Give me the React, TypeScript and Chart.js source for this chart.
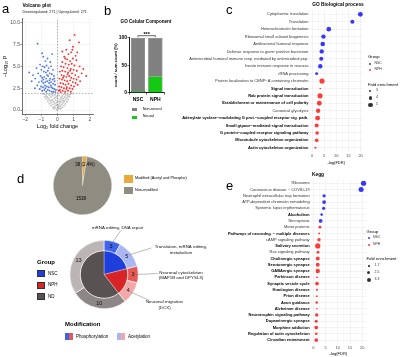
import React, { useEffect, useRef } from "react";
import { Chart, registerables } from "chart.js";

Chart.register(...registerables);

// ======================= DATA =======================
// (a) Volcano plot: [log2 fold change, -log10 P]
const VOLCANO_DOWN: number[][] = [
  [-1.23, 7.6], [-0.95, 6.5], [-0.33, 6.4], [-0.88, 6.1], [-0.62, 5.9], [-0.45, 5.5], [-0.75, 5.6], [-1.08, 5.2],
  [-1.3, 4.8], [-1.75, 4.3], [-1.52, 4.0], [-1.6, 3.3], [-1.38, 3.6], [-1.2, 4.2], [-1.0, 4.6], [-0.92, 5.0],
  [-0.8, 4.9], [-0.68, 5.1], [-0.55, 4.8], [-0.4, 5.0], [-0.28, 4.6], [-0.85, 4.4], [-0.72, 4.3], [-0.6, 4.5],
  [-0.48, 4.2], [-0.35, 4.1], [-0.22, 3.9], [-1.05, 3.9], [-0.95, 3.7], [-0.82, 3.8], [-0.7, 3.6], [-0.58, 3.9],
  [-0.45, 3.6], [-0.3, 3.5], [-0.18, 3.3], [-1.15, 3.2], [-0.98, 3.3], [-0.88, 3.1], [-0.76, 3.2], [-0.64, 3.3],
  [-0.52, 3.1], [-0.4, 3.2], [-0.27, 3.0], [-0.15, 2.9], [-1.25, 2.8], [-1.02, 2.7], [-0.9, 2.6], [-0.78, 2.8],
  [-0.66, 2.7], [-0.54, 2.6], [-0.42, 2.8], [-0.3, 2.5], [-0.2, 2.4], [-0.1, 2.3], [-0.95, 2.2], [-0.82, 2.3],
  [-0.7, 2.1], [-0.6, 2.3], [-0.48, 2.2], [-0.36, 2.1], [-0.25, 2.1], [-0.14, 2.05], [-1.4, 2.5], [-0.65, 4.0],
  [-0.5, 3.4], [-0.38, 2.6], [-0.75, 2.5], [-0.88, 3.5], [-1.1, 2.4], [-0.2, 3.6],
];
const VOLCANO_UP: number[][] = [
  [1.06, 8.6], [0.76, 8.0], [1.33, 7.75], [0.96, 7.25], [0.55, 6.9], [0.85, 6.6], [0.68, 6.4], [1.12, 6.2],
  [0.42, 6.1], [0.95, 5.9], [1.17, 5.7], [0.6, 5.8], [0.78, 5.6], [0.3, 5.5], [1.37, 5.0], [0.5, 5.3],
  [0.7, 5.2], [0.88, 5.3], [1.05, 5.1], [0.22, 5.0], [0.38, 4.9], [0.62, 4.8], [0.82, 4.7], [1.0, 4.6],
  [1.2, 4.5], [1.78, 3.9], [1.5, 4.2], [0.15, 4.4], [0.3, 4.5], [0.48, 4.4], [0.66, 4.3], [0.9, 4.2],
  [1.1, 4.0], [1.3, 3.8], [0.25, 4.0], [0.4, 3.9], [0.55, 3.8], [0.72, 3.9], [0.85, 3.7], [1.0, 3.6],
  [1.18, 3.5], [0.12, 3.6], [0.28, 3.5], [0.45, 3.4], [0.6, 3.3], [0.78, 3.4], [0.95, 3.2], [1.12, 3.1],
  [0.18, 3.1], [0.35, 3.0], [0.5, 2.9], [0.68, 3.0], [0.85, 2.8], [1.02, 2.7], [0.1, 2.7], [0.25, 2.6],
  [0.4, 2.5], [0.58, 2.6], [0.75, 2.5], [0.92, 2.4], [0.15, 2.3], [0.32, 2.2], [0.48, 2.1], [0.65, 2.2],
  [0.82, 2.1], [0.2, 2.05], [0.55, 2.4], [1.25, 2.9], [1.4, 3.3], [0.35, 3.7], [0.62, 4.1], [0.78, 4.5],
  [0.48, 5.9], [0.92, 6.9], [1.22, 6.6], [0.3, 6.7], [1.6, 4.7], [0.08, 2.2],
];
const VOLCANO_NS: number[][] = [
  [-0.05, 0.05], [0.04, 0.1], [0.1, 0.2], [-0.12, 0.25], [0.02, 0.3], [-0.2, 0.4], [0.18, 0.4], [0.06, 0.5],
  [-0.08, 0.55], [0.26, 0.6], [-0.3, 0.65], [0.12, 0.7], [-0.16, 0.75], [0.34, 0.8], [-0.38, 0.85], [0.2, 0.9],
  [-0.24, 0.95], [0.05, 1.0], [0.42, 1.0], [-0.45, 1.05], [0.28, 1.1], [-0.1, 1.1], [-0.32, 1.15], [0.5, 1.2],
  [0.15, 1.2], [-0.52, 1.25], [0.36, 1.3], [-0.2, 1.3], [0.0, 1.35], [-0.6, 1.4], [0.58, 1.4], [0.22, 1.45],
  [-0.4, 1.5], [0.44, 1.5], [-0.05, 1.55], [-0.66, 1.55], [0.65, 1.6], [0.3, 1.6], [-0.28, 1.65], [0.1, 1.65],
  [-0.5, 1.7], [0.52, 1.7], [-0.72, 1.75], [0.72, 1.75], [-0.15, 1.75], [0.38, 1.8], [-0.38, 1.8], [0.02, 1.85],
  [-0.58, 1.85], [0.6, 1.85], [0.8, 1.8], [-0.82, 1.8], [0.2, 0.15], [-0.22, 0.15], [0.3, 0.3], [-0.28, 0.3],
  [0.4, 0.5], [-0.42, 0.5], [0.48, 0.7], [-0.5, 0.75], [0.58, 0.95], [-0.6, 1.0], [0.66, 1.2], [-0.7, 1.25],
  [0.75, 1.5], [-0.78, 1.5], [0.0, 0.6], [0.12, 0.95], [-0.05, 0.85], [0.25, 1.35], [-0.15, 1.45], [0.45, 1.9],
  [-0.3, 1.9], [0.9, 1.9], [-0.92, 1.9], [0.08, 0.45], [-0.35, 1.1], [0.36, 1.05],
];
const VOLCANO_X_TICKS = [-2, -1, 0, 1, 2];
const VOLCANO_Y_TICKS = [0, 2.5, 5, 7.5, 10];
const VOLCANO_X_RANGE = [-2.2, 2.2];
const VOLCANO_Y_RANGE = [-0.5, 10.5];
const P_CUTOFF = 1.9;
const FC_CUTOFF = 0;
const DOWN_COUNT = 271;
const UP_COUNT = 271;

// (b) GO Cellular component (% of count)
const CC_GROUPS = ["NSC", "NPH"];
const CC_NEURAL = [3, 30];
const CC_NON_NEURAL = [97, 70];
const CC_Y_TICKS = [0, 50, 100];
const CC_SIGNIFICANCE = "***";

// (c) GO Biological process
const GO_TERMS = [
  "Cytoplasmic translation",
  "Translation",
  "Heterochromatin formation",
  "Ribosomal small subunit biogenesis",
  "Antibacterial humoral response",
  "Defense response to gram\u2212positive bacterium",
  "Antimicrobial humoral immune resp. mediated by antimicrobial pep.",
  "Innate immune response in mucosa",
  "rRNA processing",
  "Protein localization to CENP\u2212A containing chromatin",
  "Signal transduction",
  "Rab protein signal transduction",
  "Establishment or maintenance of cell polarity",
  "Canonical glycolysis",
  "Adenylate cyclase\u2212modulating G prot.\u2212coupled receptor sig. path.",
  "Small gtpase\u2212mediated signal transduction",
  "G protein\u2212coupled receptor signaling pathway",
  "Microtubule cytoskeleton organization",
  "Actin cytoskeleton organization",
];
const GO_LOG_FDR = [19.9, 16.6, 6.9, 4.7, 4.4, 4.0, 3.8, 3.4, 1.9, 4.1, 3.4, 3.3, 3.0, 2.5, 2.3, 1.9, 2.1, 1.9, 1.4];
const GO_FOLD = [5.2, 4.5, 5.0, 4.8, 5.0, 4.8, 4.5, 4.8, 3.5, 5.5, 2.3, 5.5, 5.2, 4.8, 5.3, 4.5, 4.1, 4.1, 2.8];
const GO_GROUP = ["NSC", "NSC", "NSC", "NSC", "NSC", "NSC", "NSC", "NSC", "NSC",
  "NPH", "NPH", "NPH", "NPH", "NPH", "NPH", "NPH", "NPH", "NPH", "NPH"];
const GO_FOLD_BREAKS = [3, 4, 5];
const FDR_TICKS = [0, 5, 10, 15, 20];

// (d) modified proteins
const MOD_LABELS = ["Modified (Acetyl and Phospho)", "Non-modified"];
const MOD_COUNTS = [38, 1538];
const GROUP_LABELS = ["NSC", "NPH", "ND"];
const GROUP_COUNTS = [8, 7, 23];
const SEGMENT_COUNTS = [3, 5, 3, 4, 10, 13];
const MODIFICATION_LABELS = ["Phosphorylation", "Acetylation"];
const SEGMENT_NOTES = [
  ["mRNA editing, DNA repair"],
  ["Translation, mRNA editing,", "metabolism"],
  ["Neuronal cytoskeleton", "(MAP1B and DPYSL3)"],
  ["Neuronal migration", "(DCX)"],
];

// (e) KEGG
const KEGG_TERMS = [
  "Ribosome",
  "Coronavirus disease \u2212 COVID-19",
  "Neutrophil extracellular trap formation",
  "ATP-dependent chromatin remodeling",
  "Systemic lupus erythematosus",
  "Alcoholism",
  "Necroptosis",
  "Motor proteins",
  "Pathways of neurodeg. \u2212 multiple diseases",
  "cAMP signaling pathway",
  "Salivary secretion",
  "Ras signaling pathway",
  "Cholinergic synapse",
  "Serotonergic synapse",
  "GABAergic synapse",
  "Parkinson disease",
  "Synaptic vesicle cycle",
  "Huntington disease",
  "Prion disease",
  "Axon guidance",
  "Alzheimer disease",
  "Neurotrophin signaling pathway",
  "Dopaminergic synapse",
  "Morphine addiction",
  "Regulation of actin cytoskeleton",
  "Circadian entrainment",
];
const KEGG_LOG_FDR = [20.5, 19.5, 4.4, 4.4, 4.2, 3.4, 3.0, 2.7, 2.4, 2.3, 1.8, 1.9, 1.8, 1.8, 1.8, 1.5, 1.5, 1.5, 1.4, 1.4, 1.4, 1.4, 1.2, 1.2, 1.2, 1.2];
const KEGG_FOLD = [3.8, 3.7, 2.6, 2.9, 2.6, 2.2, 2.9, 2.4, 1.8, 2.7, 3.8, 2.4, 3.0, 3.0, 3.3, 1.8, 2.9, 1.9, 1.8, 2.2, 1.6, 2.7, 2.5, 2.9, 2.3, 2.9];
const KEGG_GROUP = ["NSC", "NSC", "NSC", "NSC", "NSC", "NSC", "NSC",
  "NPH", "NPH", "NPH", "NPH", "NPH", "NPH", "NPH", "NPH", "NPH", "NPH", "NPH", "NPH", "NPH", "NPH", "NPH", "NPH", "NPH", "NPH", "NPH"];
const KEGG_FOLD_BREAKS = [1.7, 2.5, 3.3];

// ======================= STYLE =======================
const FONT = "'Liberation Sans', Arial, Helvetica, sans-serif";
Chart.defaults.font.family = FONT;

const VOLC_BLUE = "rgba(62,105,228,0.9)";
const VOLC_RED = "rgba(255,20,20,0.9)";
const VOLC_GREY = "rgba(190,190,190,0.9)";
const NSC_DOT = "rgba(20,20,255,0.85)";
const NPH_DOT = "rgba(255,25,25,0.85)";
const GREEN = "#14c814";
const BAR_GREY = "#808080";
const PIE_COLORS = ["#e9a93c", "#8f8d81"];
const GROUP_COLORS = ["#1f3fdc", "#d82424", "#585252"];
const SEGMENT_COLORS = ["#3f63ea", "#a9b6f3", "#e45858", "#f2a8a8", "#8c8686", "#bcb5b5"];
const GO_BOLD = new Set(GO_TERMS.slice(10).filter((t) => t !== "Canonical glycolysis"));
const KEGG_BOLD = new Set(KEGG_TERMS.filter((t, i) => i === 5 || (i >= 8 && t !== "cAMP signaling pathway" && t !== "Ras signaling pathway")));
const goRadius = (fe: number) => 0.55 * fe - 0.45;
const keggRadius = (fe: number) => 0.84 * fe - 0.58;

// ======================= HELPERS =======================
function ChartCanvas({ left, top, width, height, make }: any) {
  const ref = useRef<HTMLCanvasElement>(null);
  useEffect(() => {
    const chart = new Chart(ref.current as HTMLCanvasElement, make());
    return () => chart.destroy();
  }, []);
  return (
    <canvas
      ref={ref}
      width={width}
      height={height}
      style={{ position: "absolute", left, top, width, height }}
    />
  );
}

function T({ x, y, size = 4.5, bold = false, align = "left", color = "#000", children }: any) {
  const tx = align === "center" ? "-50%" : align === "right" ? "-100%" : "0";
  return (
    <div
      style={{
        position: "absolute",
        left: x,
        top: y,
        fontSize: size,
        fontWeight: bold ? 700 : 400,
        color,
        lineHeight: 1,
        whiteSpace: "nowrap",
        transform: `translate(${tx}, -50%)`,
      }}
    >
      {children}
    </div>
  );
}

function Box({ x, y, w, h, bg, border }: any) {
  return (
    <div style={{ position: "absolute", left: x, top: y, width: w, height: h, background: bg, boxSizing: "border-box", border: border || "none" }} />
  );
}

function Dot({ x, y, r, color }: any) {
  return (
    <div style={{ position: "absolute", left: x - r, top: y - r, width: 2 * r, height: 2 * r, borderRadius: "50%", background: color }} />
  );
}

const base = { responsive: false, maintainAspectRatio: false, animation: false, devicePixelRatio: 1 };
const noPlugins = { legend: { display: false }, tooltip: { enabled: false } };

// ======================= CONFIGS =======================
const volcanoConfig = () => ({
  type: "scatter",
  data: {
    datasets: [
      {
        type: "line", data: [{ x: VOLCANO_X_RANGE[0], y: P_CUTOFF }, { x: VOLCANO_X_RANGE[1], y: P_CUTOFF }],
        borderColor: "#666", borderWidth: 0.5, borderDash: [1.5, 1.5], pointRadius: 0,
      },
      {
        type: "line", data: [{ x: FC_CUTOFF, y: VOLCANO_Y_RANGE[0] }, { x: FC_CUTOFF, y: VOLCANO_Y_RANGE[1] }],
        borderColor: "#666", borderWidth: 0.5, borderDash: [1.5, 1.5], pointRadius: 0,
      },
      { data: VOLCANO_UP.map(([x, y]) => ({ x, y })), pointRadius: 0.95, pointBackgroundColor: VOLC_RED, pointBorderWidth: 0 },
      { data: VOLCANO_DOWN.map(([x, y]) => ({ x, y })), pointRadius: 0.95, pointBackgroundColor: VOLC_BLUE, pointBorderWidth: 0 },
      { data: VOLCANO_NS.map(([x, y]) => ({ x, y })), pointRadius: 0.95, pointBackgroundColor: VOLC_GREY, pointBorderWidth: 0 },
    ],
  },
  options: {
    ...base,
    layout: { padding: { left: 0, right: 3.5, top: 18.3, bottom: 0 } },
    plugins: noPlugins,
    scales: {
      x: {
        type: "linear", min: VOLCANO_X_RANGE[0], max: VOLCANO_X_RANGE[1],
        afterBuildTicks: (s: any) => { s.ticks = VOLCANO_X_TICKS.map((v) => ({ value: v })); },
        ticks: { callback: (v: number) => (v < 0 ? "\u2212" + Math.abs(v) : String(v)), font: { size: 5 }, color: "#4d4d4d", padding: 0.5, maxRotation: 0, autoSkip: false },
        grid: { color: "#ebebeb", lineWidth: 0.5, tickLength: 1.5, tickColor: "#333" },
        border: { color: "#333", width: 0.7 },
        title: { display: true, text: "Log\u2082 fold change", font: { size: 5.5 }, color: "#000", padding: { top: 0, bottom: 0.7 } },
        afterFit: (s: any) => { s.height = 15.6; },
      },
      y: {
        type: "linear", min: VOLCANO_Y_RANGE[0], max: VOLCANO_Y_RANGE[1],
        afterBuildTicks: (s: any) => { s.ticks = VOLCANO_Y_TICKS.map((v) => ({ value: v })); },
        ticks: { callback: (v: number) => v.toFixed(1), font: { size: 5 }, color: "#4d4d4d", padding: 0.5 },
        grid: { color: "#ebebeb", lineWidth: 0.5, tickLength: 1.5, tickColor: "#333" },
        border: { color: "#333", width: 0.7 },
        title: { display: true, text: "\u2212Log\u2081\u2080 P", font: { size: 5.5 }, color: "#000", padding: { top: 2.5, bottom: 0 } },
        afterFit: (s: any) => { s.width = 22; },
      },
    },
  },
});

const bracketPlugin = {
  id: "bracket",
  afterDraw(chart: any) {
    const { ctx, scales, chartArea } = chart;
    const x0 = scales.x.getPixelForValue(0);
    const x1 = scales.x.getPixelForValue(1);
    const y = chartArea.top - 2;
    ctx.save();
    ctx.strokeStyle = "#000";
    ctx.lineWidth = 0.6;
    ctx.beginPath();
    ctx.moveTo(x0, y + 1.6);
    ctx.lineTo(x0, y);
    ctx.lineTo(x1, y);
    ctx.lineTo(x1, y + 1.6);
    ctx.stroke();
    ctx.font = `bold 5.5px ${FONT}`;
    ctx.fillStyle = "#000";
    ctx.textAlign = "center";
    ctx.textBaseline = "alphabetic";
    ctx.fillText(CC_SIGNIFICANCE, (x0 + x1) / 2, y + 0.6);
    ctx.restore();
  },
};

const barConfig = () => ({
  type: "bar",
  data: {
    labels: CC_GROUPS,
    datasets: [
      { label: "Neural", data: CC_NEURAL, backgroundColor: GREEN, borderColor: "#222", borderWidth: 0.5, stack: "s" },
      { label: "Non-neural", data: CC_NON_NEURAL, backgroundColor: BAR_GREY, borderColor: "#222", borderWidth: 0.5, stack: "s" },
    ],
  },
  options: {
    ...base,
    layout: { padding: { left: 16, right: 3, top: 17.7, bottom: 0 } },
    datasets: { bar: { barPercentage: 0.82, categoryPercentage: 1 } },
    plugins: noPlugins,
    scales: {
      x: {
        stacked: true,
        ticks: { font: { size: 5, weight: "bold" }, color: "#000", padding: 1.5, maxRotation: 0 },
        grid: { display: true, drawOnChartArea: false, drawTicks: true, tickLength: 2, color: "#000", lineWidth: 0.6 },
        border: { color: "#000", width: 0.9 },
        afterFit: (s: any) => { s.height = 13.3; },
      },
      y: {
        stacked: true, min: 0, max: 100,
        afterBuildTicks: (s: any) => { s.ticks = CC_Y_TICKS.map((v) => ({ value: v })); },
        ticks: { font: { size: 5, weight: "bold" }, color: "#000", padding: 0.5 },
        grid: { display: true, drawOnChartArea: false, drawTicks: true, tickLength: 1.8, color: "#000", lineWidth: 0.6 },
        border: { color: "#000", width: 0.9 },
        title: { display: true, text: "count / sum count (%)", font: { size: 4.2, weight: "bold" }, color: "#000", padding: { top: 0, bottom: 0 } },
        afterFit: (s: any) => { s.width = 16.3; },
      },
    },
  },
  plugins: [bracketPlugin],
});

function dotPlotConfig(o: any) {
  const majorSet = new Set(FDR_TICKS);
  const gridTicks: number[] = [];
  FDR_TICKS.forEach((v, i) => {
    gridTicks.push(v);
    if (i < FDR_TICKS.length - 1) gridTicks.push((v + FDR_TICKS[i + 1]) / 2);
  });
  const mk = (g: string, color: string) => ({
    label: g,
    data: o.terms
      .map((_: string, i: number) => (o.group[i] === g ? { x: o.fdr[i], y: i, r: o.radius(o.fold[i]) } : null))
      .filter(Boolean),
    backgroundColor: color,
    borderWidth: 0,
    clip: false,
  });
  return {
    type: "bubble",
    data: { datasets: [mk("NSC", NSC_DOT), mk("NPH", NPH_DOT)] },
    options: {
      ...base,
      layout: { padding: { left: 0, right: o.padRight, top: o.padTop, bottom: 0 } },
      plugins: noPlugins,
      scales: {
        x: {
          type: "linear", min: o.xMin, max: o.xMax,
          afterBuildTicks: (s: any) => { s.ticks = gridTicks.map((v) => ({ value: v })); },
          ticks: { callback: (v: number) => (majorSet.has(v) ? String(v) : ""), font: { size: 4 }, color: "#4d4d4d", padding: 1.2, maxRotation: 0, autoSkip: false },
          grid: { color: "#ebebeb", lineWidth: (c: any) => (c.tick && majorSet.has(c.tick.value) ? 0.6 : 0.3), drawTicks: false },
          border: { display: false },
          title: { display: true, text: "-log(FDR)", font: { size: 4 }, color: "#000", padding: { top: 0, bottom: 0.6 } },
          afterFit: (s: any) => { s.height = o.xAxisHeight; },
        },
        y: {
          type: "linear", reverse: true, min: -0.6, max: o.terms.length - 0.4,
          afterBuildTicks: (s: any) => { s.ticks = o.terms.map((_: string, i: number) => ({ value: i })); },
          ticks: {
            callback: (v: number) => o.terms[v],
            autoSkip: false,
            padding: 1.2,
            font: (c: any) => ({ size: 4, weight: c.tick && o.bold.has(o.terms[c.tick.value]) ? "bold" : "normal" }),
            color: (c: any) => (c.tick && o.bold.has(o.terms[c.tick.value]) ? "#000" : "#333"),
          },
          grid: { color: "#ebebeb", lineWidth: 0.6, drawTicks: false },
          border: { display: false },
          afterFit: (s: any) => { s.width = o.yAxisWidth; },
        },
      },
    },
  };
}

const goConfig = () =>
  dotPlotConfig({
    terms: GO_TERMS, fdr: GO_LOG_FDR, fold: GO_FOLD, group: GO_GROUP, radius: goRadius, bold: GO_BOLD,
    xMin: -1, xMax: 20.9, yAxisWidth: 159.6, padTop: 9.9, padRight: 37.2, xAxisHeight: 13.8,
  });

const keggConfig = () =>
  dotPlotConfig({
    terms: KEGG_TERMS, fdr: KEGG_LOG_FDR, fold: KEGG_FOLD, group: KEGG_GROUP, radius: keggRadius, bold: KEGG_BOLD,
    xMin: -1.03, xMax: 21.5, yAxisWidth: 160.8, padTop: 9.5, padRight: 34, xAxisHeight: 13.2,
  });

const pieConfig = () => ({
  type: "pie",
  data: {
    labels: MOD_LABELS,
    datasets: [{ data: MOD_COUNTS, backgroundColor: PIE_COLORS, borderColor: "#e6e4dc", borderWidth: 0.5 }],
  },
  options: { ...base, layout: { padding: 0 }, plugins: noPlugins },
});

// annotation anchors (canvas coords of donut canvas)
const NOTE_LAYOUT = [
  { seg: 0, tx: 100.7, ty: 15.5, lx: 97.5, ly: 12.3 },
  { seg: 1, tx: 131.5, ty: 33, lx: 161, ly: 31.7 },
  { seg: 2, tx: 137.5, ty: 58.5, lx: 161, ly: 57.3 },
  { seg: 3, tx: 128.5, ty: 85, lx: 144.5, ly: 86.7 },
];

const donutPlugin = {
  id: "donutNotes",
  afterDatasetsDraw(chart: any) {
    const { ctx } = chart;
    const outer = chart.getDatasetMeta(0);
    ctx.save();
    ctx.fillStyle = "#111";
    ctx.textAlign = "center";
    ctx.textBaseline = "middle";
    ctx.font = `5.5px ${FONT}`;
    outer.data.forEach((arc: any, i: number) => {
      const p = arc.tooltipPosition();
      ctx.fillText(String(SEGMENT_COUNTS[i]), p.x, p.y);
    });
    ctx.strokeStyle = "#777";
    ctx.lineWidth = 0.5;
    ctx.font = `4.4px ${FONT}`;
    NOTE_LAYOUT.forEach((n, k) => {
      const arc = outer.data[n.seg];
      const { x, y, startAngle, endAngle, outerRadius } = arc.getProps(["x", "y", "startAngle", "endAngle", "outerRadius"]);
      const a = (startAngle + endAngle) / 2;
      const sx = x + Math.cos(a) * (outerRadius - 2);
      const sy = y + Math.sin(a) * (outerRadius - 2);
      ctx.beginPath();
      ctx.moveTo(sx, sy);
      ctx.lineTo(n.tx, n.ty);
      ctx.stroke();
      SEGMENT_NOTES[k].forEach((line, j) => ctx.fillText(line, n.lx, n.ly + j * 5.6));
    });
    ctx.restore();
  },
};

const donutConfig = () => ({
  type: "doughnut",
  data: {
    datasets: [
      { data: SEGMENT_COUNTS, backgroundColor: SEGMENT_COLORS, borderColor: "#ffffff", borderWidth: 0.6, weight: 10.5 },
      { data: GROUP_COUNTS, backgroundColor: GROUP_COLORS, borderColor: "#ffffff", borderWidth: 0.3, weight: 24 },
    ],
  },
  options: {
    ...base,
    cutout: 0,
    layout: { padding: { left: 49.5, right: 81.5, top: 25, bottom: 26 } },
    plugins: noPlugins,
  },
  plugins: [donutPlugin],
});

// ======================= APP =======================
export default function App() {
  const modPct = ((MOD_COUNTS[0] / (MOD_COUNTS[0] + MOD_COUNTS[1])) * 100).toFixed(1);
  const gridLegend = (x: number, y: number, title: string, breaks: number[], radius: (v: number) => number) => (
    <>
      <T x={x} y={y} size={4.2}>Group</T>
      <Dot x={x + 2.3} y={y + 6.6} r={1} color={NSC_DOT} />
      <T x={x + 6.5} y={y + 6.6} size={3.5} color="#333">NSC</T>
      <Dot x={x + 2.3} y={y + 13.1} r={1} color={NPH_DOT} />
      <T x={x + 6.5} y={y + 13.1} size={3.5} color="#333">NPH</T>
      <T x={x} y={y + 27.5} size={4.2}>{title}</T>
      {breaks.map((b, i) => (
        <React.Fragment key={b}>
          <Dot x={x + 2.3} y={y + 34 + i * 7} r={radius(b)} color="#333" />
          <T x={x + 8} y={y + 34 + i * 7} size={3.5} color="#333">{String(b)}</T>
        </React.Fragment>
      ))}
    </>
  );
  return (
    <div style={{ position: "fixed", left: 0, top: 0, width: 400, height: 357, background: "#fff", fontFamily: FONT, overflow: "hidden" }}>
      <ChartCanvas left={0} top={0} width={97} height={130} make={volcanoConfig} />
      <ChartCanvas left={97} top={20} width={70} height={86} make={barConfig} />
      <ChartCanvas left={150} top={0} width={250} height={166} make={goConfig} />
      <ChartCanvas left={150} top={170} width={250} height={187} make={keggConfig} />
      <ChartCanvas left={52.5} top={155.5} width={59} height={59} make={pieConfig} />
      <ChartCanvas left={20} top={215} width={200} height={120} make={donutConfig} />

      {/* panel letters */}
      <T x={2} y={8} size={13}>a</T>
      <T x={104} y={10} size={13}>b</T>
      <T x={226} y={9} size={13}>c</T>
      <T x={17} y={178} size={13}>d</T>
      <T x={226} y={185} size={13}>e</T>

      {/* a titles */}
      <T x={22.5} y={6} size={4.8} bold>Volcano plot</T>
      <T x={22.5} y={12.7} size={3.7} color="#222">{`Downregulated: ${DOWN_COUNT} | Upregulated: ${UP_COUNT}`}</T>

      {/* b title & legend */}
      <T x={146} y={22} size={4.6} bold align="center">GO Celular Component</T>
      <Box x={131.7} y={108.3} w={5.6} h={3} bg={BAR_GREY} />
      <T x={142.7} y={109.8} size={3.8}>Non-neural</T>
      <Box x={131.7} y={115.5} w={5.6} h={3} bg={GREEN} />
      <T x={142.7} y={117} size={3.8}>Neural</T>

      {/* c */}
      <T x={338} y={5} size={4.8} bold align="center">GO Biological process</T>
      {gridLegend(368, 57, "Fold enrichment", GO_FOLD_BREAKS, goRadius)}

      {/* e */}
      <T x={318} y={175} size={4.8} bold align="center">Kegg</T>
      {gridLegend(366.5, 231.7, "Fold enrichment", KEGG_FOLD_BREAKS, keggRadius)}

      {/* d pie labels & legend */}
      <T x={85} y={164.5} size={4.5} align="center">{`${MOD_COUNTS[0]} (${modPct}%)`}</T>
      <T x={81} y={199} size={4.5} align="center">{String(MOD_COUNTS[1])}</T>
      <Box x={124} y={175} w={8.7} h={7.7} bg={PIE_COLORS[0]} />
      <T x={135} y={179} size={3.8}>{MOD_LABELS[0]}</T>
      <Box x={124} y={186.7} w={8.7} h={7.7} bg={PIE_COLORS[1]} />
      <T x={135} y={190.5} size={3.8}>{MOD_LABELS[1]}</T>

      {/* d donut legends */}
      <T x={37} y={261.7} size={6} bold>Group</T>
      {GROUP_LABELS.map((g, i) => (
        <React.Fragment key={g}>
          <Box x={37.3} y={270 + i * 11.6} w={7.7} h={7.3} bg={GROUP_COLORS[i]} border="0.4px solid #333" />
          <T x={48} y={273.7 + i * 11.6} size={4.5}>{g}</T>
        </React.Fragment>
      ))}
      <T x={65} y={324.3} size={6} bold>Modification</T>
      <Box x={65.3} y={333.3} w={8} h={6.7} bg={`linear-gradient(90deg, ${SEGMENT_COLORS[0]} 0%, ${SEGMENT_COLORS[0]} 45%, ${SEGMENT_COLORS[2]} 55%, ${SEGMENT_COLORS[2]} 100%)`} />
      <T x={76} y={336.7} size={4.5}>{MODIFICATION_LABELS[0]}</T>
      <Box x={116.7} y={333.3} w={8.3} h={6.7} bg={`linear-gradient(90deg, ${SEGMENT_COLORS[1]} 0%, ${SEGMENT_COLORS[1]} 45%, ${SEGMENT_COLORS[3]} 55%, ${SEGMENT_COLORS[3]} 100%)`} />
      <T x={128} y={336.7} size={4.5}>{MODIFICATION_LABELS[1]}</T>
    </div>
  );
}
